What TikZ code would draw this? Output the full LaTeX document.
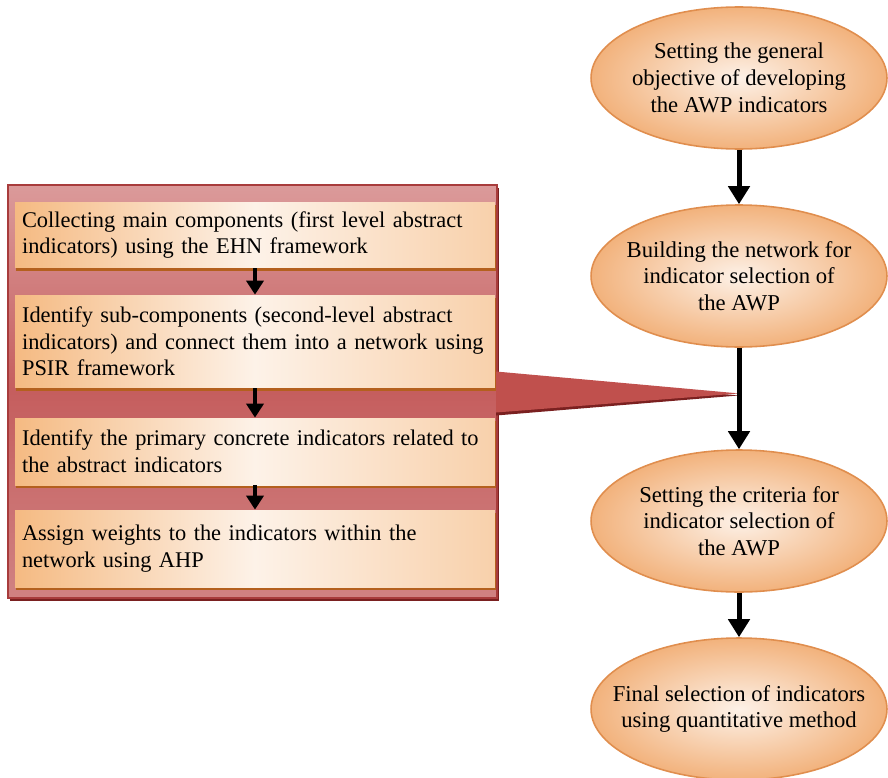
\documentclass[tikz,border=0pt]{standalone}
\usepackage{fontspec}
\setmainfont{Liberation Serif}
\usepackage{tikz}
\usetikzlibrary{shapes.geometric,arrows.meta,positioning,calc,shadows}

\definecolor{ovlight}{HTML}{FDF1E7}
\definecolor{ovdark}{HTML}{F2B27C}
\definecolor{ovline}{HTML}{E08E4E}
\definecolor{bxlight}{HTML}{FDF2E8}
\definecolor{bxdark}{HTML}{F5BA82}
\definecolor{bxshadow}{HTML}{B4601E}
\definecolor{pntop}{HTML}{DB9A9A}
\definecolor{pnmid}{HTML}{C55E5E}
\definecolor{pnbot}{HTML}{D08282}
\definecolor{pnline}{HTML}{A83C3C}
\definecolor{wedge}{HTML}{C0504D}
\definecolor{wedgeshadow}{HTML}{7A2020}

\begin{document}
\begin{tikzpicture}[
    x=0.02cm, y=-0.02cm,
    ov/.style={ellipse, draw=ovline, line width=0.9pt, inner color=ovlight, outer color=ovdark, minimum width=5.92cm, minimum height=2.84cm, inner xsep=-1.5cm, inner ysep=-0.4cm, align=center, font=\fontsize{12.9}{15.2}\selectfont},
    bx/.style={rectangle, left color=bxdark, right color=bxdark!60!bxlight, middle color=bxlight, minimum width=9.6cm, text width=9.32cm, inner xsep=0.14cm, align=left, font=\fontsize{12.75}{15.2}\selectfont, drop shadow={shadow xshift=0.4pt, shadow yshift=-1.6pt, fill=bxshadow, opacity=1}},
    pn/.style={rectangle, draw=pnline, line width=1.2pt, top color=pntop, bottom color=pnbot, middle color=pnmid, minimum width=9.78cm, minimum height=8.26cm, drop shadow={shadow xshift=1pt, shadow yshift=-1.5pt, fill=wedgeshadow, opacity=1}},
    arr/.style={-{Triangle[width=0.42cm,length=0.36cm]}, line width=0.1cm, draw=black},
    sarr/.style={-{Triangle[width=0.34cm,length=0.28cm]}, line width=0.08cm, draw=black}
]
    \useasboundingbox (0,0) rectangle (888,777);

    % left panel with the four steps
    \node [pn] (panel) at (252.5,391.5) {};
    \node [bx, minimum height=1.32cm] (s1) at (255,235) {Collecting main components (first level abstract\\indicators) using the EHN framework};
    \node [bx, minimum height=1.86cm] (s2) at (255,341.5) {Identify sub-components (second-level abstract\\indicators) and connect them into a network using\\PSIR framework};
    \node [bx, minimum height=1.34cm] (s3) at (255,451.5) {Identify the primary concrete indicators related to\\the abstract indicators};
    \node [bx, minimum height=1.54cm] (s4) at (255,548.5) {Assign weights to the indicators within the\\network using AHP};

    \draw [sarr] (s1) -- (s2);
    \draw [sarr] (s2) -- (s3);
    \draw [sarr] (s3) -- (s4);

    % right column
    \node [ov] (goal) at (739,78) {Setting the general\\objective of developing\\the AWP indicators};
    \node [ov] (network) at (739,276) {Building the network for\\indicator selection of\\the AWP};
    \node [ov] (criteria) at (739,521) {Setting the criteria for\\indicator selection of\\the AWP};
    \node [ov] (final) at (739,709) {Final selection of indicators\\using quantitative method};

    % callout wedge
    \coordinate (tip) at ($(network.south)!0.45!(criteria.north)$);
    \fill [wedgeshadow] ($(panel.east)+(-2,-17)$) -- ($(tip)+(0,2)$) -- ($(panel.east)+(-2,24)$) -- cycle;
    \fill [wedge] ($(panel.east)+(-2,-20)$) -- (tip) -- ($(panel.east)+(-2,21)$) -- cycle;

    \draw [arr] (goal) -- (network);
    \draw [arr] (network) -- (criteria);
    \draw [arr] (criteria) -- (final);
\end{tikzpicture}
\end{document}
